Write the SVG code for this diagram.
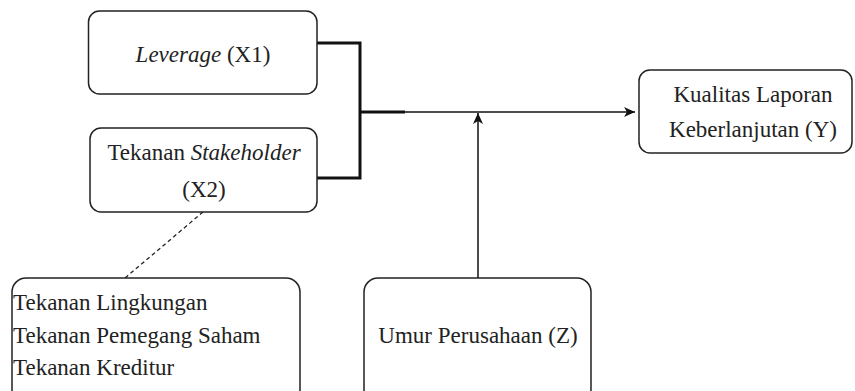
<svg xmlns="http://www.w3.org/2000/svg" width="855" height="391" viewBox="0 0 855 391">
<defs>
<style>
.box{fill:#fff;stroke:#222;stroke-width:1.5}
.t{font-family:'Liberation Serif','Tinos','Times New Roman','DejaVu Serif',serif;font-size:23px;fill:#222}
.c{text-anchor:middle}
.thin{fill:none;stroke:#111;stroke-width:1.5}
.thick{fill:none;stroke:#111;stroke-width:3}
</style>
<marker id="arr" markerWidth="12" markerHeight="12" refX="11" refY="6" orient="auto" markerUnits="userSpaceOnUse">
<path d="M0,1 L11,6 L0,11 L3,6 Z" fill="#111"/>
</marker>
</defs>
<rect width="855" height="391" fill="#fff"/>
<g id="connectors">
<path class="thick" d="M317,43 H360 V178 H317"/>
<path class="thick" d="M360,112 H405"/>
<path class="thin" d="M405,112 H635" marker-end="url(#arr)"/>
<path class="thin" d="M478,278 V113" marker-end="url(#arr)"/>
<path fill="none" stroke="#222" stroke-width="1.3" stroke-dasharray="4,3" d="M203,212 L125,278"/>
</g>
<g id="x1">
<rect class="box" x="88.5" y="11" width="228.5" height="83" rx="11"/>
<text class="t c" x="203" y="62" font-family="Liberation Serif, serif"><tspan font-style="italic">Leverage</tspan> (X1)</text>
</g>
<g id="x2">
<rect class="box" x="90" y="128" width="227" height="84" rx="11"/>
<text class="t c" x="204" y="160">Tekanan <tspan font-style="italic">Stakeholder</tspan></text>
<text class="t c" x="204" y="197">(X2)</text>
</g>
<g id="y">
<rect class="box" x="639" y="70" width="213" height="83" rx="11"/>
<text class="t c" x="753" y="102">Kualitas Laporan</text>
<text class="t c" x="753" y="137">Keberlanjutan (Y)</text>
</g>
<g id="z">
<rect class="box" x="364" y="278" width="227" height="125" rx="14"/>
<text class="t c" x="478" y="343">Umur Perusahaan (Z)</text>
</g>
<g id="indicators">
<rect class="box" x="12" y="278" width="288" height="125" rx="14"/>
<text class="t" x="13" y="310">Tekanan Lingkungan</text>
<text class="t" x="13" y="343">Tekanan Pemegang Saham</text>
<text class="t" x="13" y="375">Tekanan Kreditur</text>
</g>
</svg>
